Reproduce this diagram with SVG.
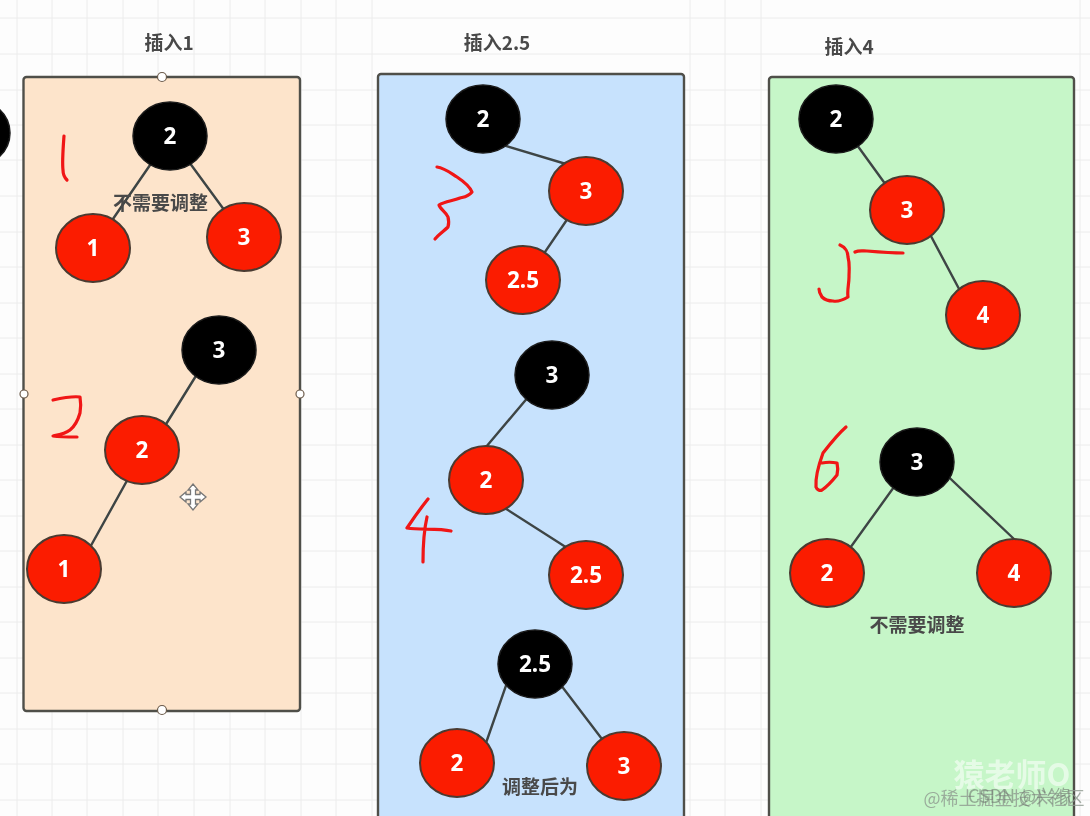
<svg xmlns="http://www.w3.org/2000/svg" width="1090" height="816" viewBox="0 0 1090 816">
<style>
text{font-family:"Noto Sans CJK SC","Liberation Sans",sans-serif;text-anchor:middle}
.t{font-size:19px;font-weight:700;fill:#4a4a4a}
.n{font-size:22.500px;font-weight:700;fill:#fff;font-family:"Noto Sans","Liberation Sans",sans-serif}
.b ellipse{fill:#000;stroke:#1a1a1a;stroke-width:1.500}
.r ellipse{fill:#fb1b00;stroke:#4a3a30;stroke-width:2}
.box{stroke:#4f4f4a;stroke-width:2.400}
.e{stroke:#3e4444;stroke-width:2.400;fill:none}
.ink{stroke:#f01414;stroke-width:3.200;fill:none;stroke-linecap:round;stroke-linejoin:round}
.h{fill:#fff;stroke:#6b5a4a;stroke-width:1.200}
.g{stroke:#ececec;stroke-width:1}
</style>
<defs><filter id="soft" x="0" y="0" width="100%" height="100%"><feGaussianBlur stdDeviation="0.450"/></filter></defs>
<g filter="url(#soft)">
<rect width="1090" height="816" fill="#fdfdfd"/>
<g id="grid">
<path class="g" d="M17 0V816M52 0V816M87 0V816M123 0V816M158 0V816M194 0V816M230 0V816M265 0V816M301 0V816M336 0V816M372 0V816M690 0V816M725 0V816M761 0V816M1080 0V816M0 18H1090M0 54H1090M0 90H1090M0 125H1090M0 160H1090M0 196H1090M0 232H1090M0 267H1090M0 303H1090M0 338H1090M0 374H1090M0 409H1090M0 445H1090M0 480H1090M0 516H1090M0 551H1090M0 587H1090M0 622H1090M0 658H1090M0 693H1090M0 729H1090M0 764H1090M0 800H1090"/>
</g>
<g id="panels">
<rect id="panel-1" class="box" x="23.500" y="77" width="276.500" height="634" rx="3" fill="#fde4cb"/>
<rect id="panel-2" class="box" x="378" y="74" width="306" height="760" rx="3" fill="#c7e2fd"/>
<rect id="panel-3" class="box" x="769" y="77" width="305" height="760" rx="3" fill="#c6f6c8"/>
</g>
<g id="titles">
<text class="t" x="169" y="50">插入1</text>
<text class="t" x="497" y="50">插入2.5</text>
<text class="t" x="849" y="54">插入4</text>
</g>
<g id="connectors">
<path class="e" d="M170 136L93 248M170 136L244 237"/>
<path class="e" d="M212 350L150 450M144 450L78 569"/>
<path class="e" d="M483 139L586 170M579 202L530 274"/>
<path class="e" d="M540 383L470 466M486 496L586 560"/>
<path class="e" d="M513.500 664L479 763M535 651L624 768"/>
<path class="e" d="M836 116L907 214M907 191L983 334"/>
<path class="e" d="M917 455L827 580M917 447L1014 539"/>
</g>
<g id="n-dot" class="b"><ellipse cx="-27" cy="133" rx="37" ry="34"/></g>
<g id="n1-2" class="b"><ellipse cx="170" cy="136" rx="37" ry="34"/><text class="n" x="170" y="144">2</text></g>
<g id="n1-1" class="r"><ellipse cx="93" cy="248" rx="37" ry="34"/><text class="n" x="93" y="256">1</text></g>
<g id="n1-3" class="r"><ellipse cx="244" cy="237" rx="37" ry="34"/><text class="n" x="244" y="245">3</text></g>
<g id="n2-3" class="b"><ellipse cx="219" cy="350" rx="37" ry="34"/><text class="n" x="219" y="358">3</text></g>
<g id="n2-2" class="r"><ellipse cx="142" cy="450" rx="37" ry="34"/><text class="n" x="142" y="458">2</text></g>
<g id="n2-1" class="r"><ellipse cx="64" cy="569" rx="37" ry="34"/><text class="n" x="64" y="577">1</text></g>
<g id="n3-2" class="b"><ellipse cx="483" cy="119" rx="37" ry="34"/><text class="n" x="483" y="127">2</text></g>
<g id="n3-3" class="r"><ellipse cx="586" cy="191" rx="37" ry="34"/><text class="n" x="586" y="199">3</text></g>
<g id="n3-25" class="r"><ellipse cx="523" cy="280" rx="37" ry="34"/><text class="n" x="523" y="288">2.5</text></g>
<g id="n4-3" class="b"><ellipse cx="552" cy="375" rx="37" ry="34"/><text class="n" x="552" y="383">3</text></g>
<g id="n4-2" class="r"><ellipse cx="486" cy="480" rx="37" ry="34"/><text class="n" x="486" y="488">2</text></g>
<g id="n4-25" class="r"><ellipse cx="586" cy="575" rx="37" ry="34"/><text class="n" x="586" y="583">2.5</text></g>
<g id="n5-25" class="b"><ellipse cx="535" cy="664" rx="37" ry="34"/><text class="n" x="535" y="672">2.5</text></g>
<g id="n5-2" class="r"><ellipse cx="457" cy="763" rx="37" ry="34"/><text class="n" x="457" y="771">2</text></g>
<g id="n5-3" class="r"><ellipse cx="624" cy="766" rx="37" ry="34"/><text class="n" x="624" y="774">3</text></g>
<g id="n6-2" class="b"><ellipse cx="836" cy="119" rx="37" ry="34"/><text class="n" x="836" y="127">2</text></g>
<g id="n6-3" class="r"><ellipse cx="907" cy="210" rx="37" ry="34"/><text class="n" x="907" y="218">3</text></g>
<g id="n6-4" class="r"><ellipse cx="983" cy="315" rx="37" ry="34"/><text class="n" x="983" y="323">4</text></g>
<g id="n7-3" class="b"><ellipse cx="917" cy="462" rx="37" ry="34"/><text class="n" x="917" y="470">3</text></g>
<g id="n7-2" class="r"><ellipse cx="827" cy="573" rx="37" ry="34"/><text class="n" x="827" y="581">2</text></g>
<g id="n7-4" class="r"><ellipse cx="1014" cy="573" rx="37" ry="34"/><text class="n" x="1014" y="581">4</text></g>
<g id="labels">
<text class="t" x="160.500" y="210">不需要调整</text>
<text class="t" x="540" y="794">调整后为</text>
<text class="t" x="917" y="632">不需要调整</text>
</g>
<g id="handwriting">
<path class="ink" d="M64 136C63 150 62 162 63 170C63 175 65 178 67 180"/>
<path class="ink" d="M437 167C445 168 452 174 457 177C463 181 470 187 472 192C468 197 464 197 460 198C453 201 445 201 439 205C440 209 446 212 448 217C449 221 449 224 448 227C444 231 439 234 435 239"/>
<path class="ink" d="M53 400C62 398 72 396 80 397C81 403 81 408 80 413C78 420 75 426 70 430C65 434 58 435 53 436C60 437 70 437 77 437"/>
<path class="ink" d="M428 499C420 509 413 519 407 528C420 530 438 528 451 531M427 517C424 530 423 548 423 562"/>
<path class="ink" d="M840 245C845 247 848 252 848 257C850 264 849 270 849 277C849 284 847 290 848 297C843 300 838 302 833 301C828 301 824 299 822 297C820 294 819 291 819 289M855 252C859 250 863 251 867 251C879 252 891 253 903 253"/>
<path class="ink" d="M846 427C838 434 830 444 823 453C819 464 815 476 816 487C817 490 820 491 822 490C828 486 833 480 837 475C838 471 838 467 837 463C832 462 827 462 822 463"/>
</g>
<g id="handles">
<circle class="h" cx="162" cy="77" r="4.500"/>
<circle class="h" cx="24" cy="394" r="4"/>
<circle class="h" cx="300" cy="394" r="4"/>
<circle class="h" cx="162" cy="710" r="4.500"/>
</g>
<g id="cursor" fill="#fff" stroke="#777" stroke-width="1.300">
<path d="M193 484L198 490H195.500V494.500H200V492L206 497L200 502V499.500H195.500V504H198L193 510L188 504H190.500V499.500H186V502L180 497L186 492V494.500H190.500V490H188Z"/>
</g>
<g id="watermark">
<text x="1012" y="786" font-size="31" font-weight="700" fill="#fff" fill-opacity=".55">猿老师O</text>
<text x="1004" y="805" font-size="18" fill="#8f9a90" fill-opacity=".8">@稀土掘金技术社区</text>
<text x="1020" y="803" font-size="18" fill="#6f7a70" fill-opacity=".6">CSDN @兴缘</text>
</g>
</g>
</svg>
